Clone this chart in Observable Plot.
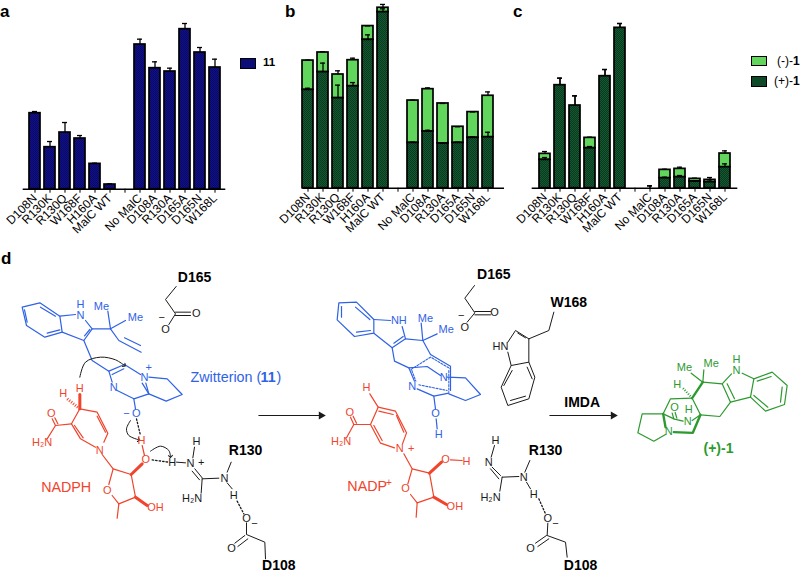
<!DOCTYPE html>
<html><head><meta charset="utf-8">
<script src="https://cdn.jsdelivr.net/npm/d3@7"></script>
<script src="https://cdn.jsdelivr.net/npm/@observablehq/plot@0.6"></script>
<style>
html,body{margin:0;padding:0;background:#fff}
#page{position:relative;width:800px;height:573px;overflow:hidden;font-family:"Liberation Sans",Arial,sans-serif}
#page svg.pl{position:absolute;background:transparent;overflow:visible;max-width:none}
.lbl{position:absolute;line-height:1;white-space:nowrap;color:#000}
.sw{position:absolute;box-sizing:border-box;border:1.7px solid #000}
</style></head><body>
<svg width="0" height="0" style="position:absolute"><defs>
<pattern id="navy" width="2" height="2" patternUnits="userSpaceOnUse"><rect width="2" height="2" fill="#10108c"/><rect width="1" height="1" fill="#0a0a62"/><rect x="1" y="1" width="1" height="1" fill="#0a0a62"/></pattern>
<pattern id="forest" width="2" height="2" patternUnits="userSpaceOnUse"><rect width="2" height="2" fill="#14582f"/><rect width="1" height="1" fill="#0a3a20"/><rect x="1" y="1" width="1" height="1" fill="#0a3a20"/></pattern>
</defs></svg>
<div id="page"></div>
<script>
const categories = ["D108N","R130K","R130Q","W168F","H160A","MalC WT"," ","No MalC","D108A","R130A","D165A","D165N","W168L"];

const aValues = [45.6,25.2,34,30.4,15.2,2.8,null,86.8,72.6,70.6,96,82,73];
const aErrTop = [46.6,28.6,40,32.2,15.6,3.2,null,90,76.4,72.6,99.4,85,78];

const bPlus     = [53.6,63.3,49.1,55.6,80.9,96,null,24.7,30.9,24.4,24.7,27.5,27.8];
const bPlusTop  = [54.5,68.2,56.2,57.6,83.6,97.8,null,25.1,31.6,24.5,25.1,28,30.5];
const bTotal    = [69.6,74,62,69.8,88.4,98.4,null,47.8,54,46.2,33.5,41.5,50.4];
const bTotalTop = [69.8,74.4,64,70.9,88.5,100.2,null,48,54.7,46.2,33.5,41.6,52.5];

const cPlus     = [17,61.8,49.6,24,67.2,96.2,null,0,6,6.6,4,3.6,12.6];
const cPlusTop  = [18.4,66,55.4,25,71.2,98.8,null,1.4,6.6,7.6,4.4,5,14.6];
const cTotal    = [20.6,61.8,49.6,30.2,67.2,96.2,null,0,11,11.6,5.6,5,20.8];
const cTotalTop = [22,66,55.4,30.6,71.2,98.8,null,1.4,11.4,12.6,6,6.4,22.4];

const page = document.getElementById("page");
const NAVY="url(#navy)", FOREST="url(#forest)", LIGHT="#62d65c";

function rows(){return categories.map((c,i)=>({c,i})).filter(d=>aValues[d.i]!=null);}

function panel(o){
  const r=rows();
  const marks=[];
  if(o.total){
    marks.push(Plot.barY(r,{x:"c",y1:d=>o.plus[d.i],y2:d=>o.total[d.i],fill:LIGHT,stroke:"#000",strokeWidth:1.7}));
  }
  marks.push(Plot.barY(r,{x:"c",y1:0,y2:d=>o.plus[d.i],fill:o.fill,stroke:"#000",strokeWidth:1.7}));
  const errs=(top,base)=>[
    Plot.ruleX(r,{x:"c",y1:d=>base[d.i],y2:d=>top[d.i],stroke:"#000",strokeWidth:1.3}),
    Plot.tickY(r,{x:"c",y:d=>top[d.i],stroke:"#000",strokeWidth:1.3,insetLeft:3,insetRight:3})
  ];
  marks.push(...errs(o.plusTop,o.plus));
  if(o.total) marks.push(...errs(o.totalTop,o.total));
  marks.push(Plot.ruleY([0],{stroke:"#000",strokeWidth:1.5}));
  marks.push(Plot.axisX({domain:categories,tickRotate:-45,tickSize:4,tickPadding:3,fontSize:12,label:null,tickFormat:d=>d,stroke:"#000",fill:"#000"}));
  const s=Plot.plot({width:o.w,height:250,marginLeft:o.ml,marginRight:o.mr,marginTop:o.mt,marginBottom:o.mb,
    style:{fontFamily:'"Liberation Sans",Arial,sans-serif',fontSize:"12px",background:"transparent",overflow:"visible"},
    x:{domain:categories,paddingInner:.28,paddingOuter:o.po,align:o.align,axis:null},
    y:{domain:[0,100],axis:null},marks});
  s.setAttribute("class","pl");
  s.style.left=o.left+"px";s.style.top="0";
  page.appendChild(s);
}
panel({left:0,w:270,ml:22.7,mr:44.7,mt:22,mb:61.3,po:.26,align:.5,plus:aValues,plusTop:aErrTop,fill:NAVY});
panel({left:270,w:235,ml:32.3,mr:1,mt:4.3,mb:62.3,po:.16,align:0,plus:bPlus,plusTop:bPlusTop,total:bTotal,totalTop:bTotalTop,fill:FOREST});
panel({left:505,w:295,ml:26.7,mr:62.7,mt:21,mb:62.3,po:.285,align:.5,plus:cPlus,plusTop:cPlusTop,total:cTotal,totalTop:cTotalTop,fill:FOREST});

/* ---- scheme d: bond paths in picture units (3 per page pixel) ---- */
const OX2=810, OX3=1590;
const shift=(a,dx)=>a.map(s=>s.split(" ").map((v,i)=>i%2?+v:+v+dx).join(" "));
const blackBonds=[
 "527 108 495 147 525 190 505 222","525 185 570 185","525 195 570 195",
 "582 590 577 622","583 655 605 682","575 662 597 688","605 685 655 683","605 685 602 728","680 665 692 635","680 697 695 715",
 "528 635 555 637",
 "738 817 738 852 793 875 795 925","733 855 703 878","742 865 712 888"
].concat(shift([
 "612 105 583 143 613 187 590 215","613 183 660 183","613 193 660 193",
 "672 585 662 620","665 650 690 675","660 655 685 685","695 680 745 678","695 680 688 722","763 665 778 630","768 695 780 715",
 "832 818 830 855 885 875 890 920","828 855 795 878","835 865 802 888",
 "850 185 835 240 775 265 775 335","775 265 735 240 712 275","712 305 722 345 775 335 793 380 775 445 712 465 692 410 722 345",
 "765 262 742 248","770 350 785 385","720 450 765 437","700 405 725 360"
],OX2));
const blackDots=["408 505 420 555","455 628 505 635","710 752 730 790"].concat(shift(["805 745 825 790"],OX2));

const blueBonds=[
 "65 170 118 157 178 197 185 245 133 260 78 225 65 170","72 178 80 215","120 170 165 197","140 248 178 238",
 "178 197 225 192","255 210 275 235 250 270 185 245","252 256 268 237",
 "275 235 330 235","330 235 322 182","330 235 375 210","330 235 355 270 422 305","372 262 420 285",
 "250 270 275 330 325 362 372 342 420 372","335 372 370 355","325 362 335 395","350 420 400 445 445 430 436 398","425 398 445 430",
 "445 380 500 385 545 432 497 452 445 430","400 445 405 475"
].concat(shift([
 "205 157 258 155 310 207 310 248 252 258 200 208 205 157","213 168 213 200","255 170 298 207","258 245 300 240",
 "310 207 360 210","395 228 405 265 365 292 310 248","370 278 398 258",
 "405 265 457 270","457 270 452 218","457 270 500 250","457 270 480 312","365 292 372 332 415 352 470 348 510 375",
 "480 312 540 347 540 420","415 352 432 392","440 415 490 437 535 428","535 430 585 450 630 432 585 382 530 380",
 "490 437 495 475","497 505 500 535"
],OX2));
const blueDash=shift(["480 320 420 358","484 322 540 355","445 403 530 420","535 360 535 425","424 360 436 392"],OX2);

const redBonds=[
 "238 475 290 485 322 548 310 575","285 590 240 565 213 520 238 475","290 497 315 545","222 525 248 562",
 "213 520 165 525 140 565","165 525 155 505","172 520 163 502","305 612 338 655 392 672 405 740 355 760 335 735","325 702 338 655","355 760 350 803",
 "425 585 432 615"
].concat(shift([
 "298 430 323 470 375 482 408 547 396 580","372 592 330 578 300 522 323 470","378 495 400 545","310 525 335 570","325 482 368 492",
 "300 522 250 522 228 562","250 522 240 500","258 518 248 497","400 610 425 655 477 668 490 740 440 757 420 732","412 700 425 655","440 757 437 800",
 "540 628 575 630"
],OX2));
const redWedges=["392 672 425 640","405 740 440 765","238 475 238 432"].concat(shift(["477 668 513 635","490 740 528 762"],OX2));
const redHash=["238 475 200 445"];

const greenBonds=shift([
 "670 385 725 365 770 405 762 462 705 482 660 440 670 385","680 392 722 378","755 410 750 455","712 470 670 435",
 "635 368 670 385","660 440 600 455 575 400 603 370","590 400 612 445","575 400 517 395","520 358 517 395","517 395 482 368",
 "485 443 420 445 398 490","600 455 568 498 510 493 485 443","398 490 335 490 322 547 370 572 405 552",
 "425 488 430 505","434 486 439 503","398 490 432 506 458 512","485 510 510 493"
],OX3);
const greenBold=shift(["517 395 485 443","510 493 487 547 430 545","398 490 405 530"],OX3);
const greenHash=shift(["485 443 455 410"],OX3);

const curveArrows=[
 "238 380 255 335 300 320 345 328 372 345","390 510 378 535 385 555 415 568","450 602 480 587 505 600 510 618"
];
const straightArrows=["775 495 962 495","1648 495 1838 495"];

const labelsBlack=[
 ["O",587,190],["O",495,236],["−",484,200],["H",588,572],["N",570,640],["+",602,637],["H",515,635],["N",672,683],["H₂N",575,745],["H",700,735],["O",738,803],["−",762,820],["O",693,895]
].concat([
 ["O",672,187],["O",583,232],["−",572,196],["H",675,570],["N",655,637],["N",760,680],["H₂N",660,742],["H",790,733],["HN",690,288],["O",832,803],["−",855,820],["O",780,895]
].map(d=>[d[0],d[1]+OX2,d[2]]));
const labelsBlackBold=[
 ["D165",582,82],["R130",735,600],["D108",835,944],["D165",1480,72],["R130",1635,600],["D108",1740,944],["W168",1705,155],["IMDA",1745,455]
];
const labelsBlue=[
 ["H",240,162],["N",240,195],["Me",303,167],["Me",405,200],["N",432,382],["+",445,352],["N",340,410],["O",407,490],["−",378,490]
].concat([
 ["NH",385,210],["Me",465,205],["Me",527,238],["N",520,380],["N",425,407],["O",495,490],["H",505,552]
].map(d=>[d[0],d[1]+OX2,d[2]]));
const labelsRed=[
 ["H",188,430],["H",238,415],["O",152,490],["H₂N",125,575],["N",298,600],["O",320,720],["O",436,628],["OH",465,772],["H",423,570]
].concat([
 ["H",288,410],["O",238,487],["H₂N",212,573],["N",388,595],["+",422,595],["O",405,715],["O",525,628],["H",588,632],["OH",553,768]
].map(d=>[d[0],d[1]+OX2,d[2]]));
const labelsGreen=[
 ["H",618,327],["N",618,360],["Me",542,338],["Me",462,352],["H",440,402],["O",432,472],["H",475,478],["N",472,512],["N",415,543]
].map(d=>[d[0],d[1]+OX3,d[2]]);

function pts(list){return list.flatMap((s,k)=>{const v=s.split(" ").map(Number);const out=[];for(let i=0;i<v.length;i+=2)out.push({x:v[i],y:v[i+1],k});return out;});}
const lineMark=(list,stroke,strokeWidth,extra={})=>Plot.line(pts(list),{x:"x",y:"y",z:"k",stroke,strokeWidth,strokeLinecap:"round",strokeLinejoin:"round",...extra});
const textMark=(list,fill,fontSize,fontWeight="normal")=>Plot.text(list,{x:d=>d[1],y:d=>d[2],text:d=>d[0],fill,fontSize,fontWeight,textAnchor:"middle",lineAnchor:"middle"});

const BLUE="#2f62e6",RED="#f0442c",GREEN="#2c9a2e",INK="#1a1a1a";
const scheme=Plot.plot({width:800,height:323,margin:0,
  style:{fontFamily:'"Liberation Sans",Arial,sans-serif',background:"transparent"},
  x:{domain:[0,2400],range:[0,800],axis:null},
  y:{domain:[0,969],range:[0,323],axis:null},
  marks:[
   lineMark(blackBonds,INK,1),lineMark(blackDots,INK,1.3,{strokeDasharray:"1.5,2"}),
   lineMark(blueBonds,BLUE,1.2),lineMark(blueDash,BLUE,1.1,{strokeDasharray:"2,1.5"}),
   lineMark(redBonds,RED,1.2),lineMark(redWedges,RED,3),lineMark(redHash,RED,3,{strokeDasharray:"1,1.5",strokeLinecap:"butt"}),
   lineMark(greenBonds,GREEN,1.2),lineMark(greenBold,GREEN,2.4),lineMark(greenHash,GREEN,2.2,{strokeDasharray:"1,1.5",strokeLinecap:"butt"}),
   lineMark(curveArrows,INK,1,{curve:"catmull-rom",markerEnd:"arrow"}),
   lineMark(straightArrows,INK,1),
   Plot.dot(straightArrows.map(s=>s.split(" ").map(Number)),{x:d=>d[2],y:d=>d[3],symbol:"triangle",r:3,rotate:90,fill:INK}),
   textMark(labelsBlack,INK,11),textMark(labelsBlackBold,"#000",14,"bold"),
   textMark(labelsBlue,BLUE,11),textMark(labelsRed,RED,11),textMark(labelsGreen,GREEN,11),
   Plot.text([["Zwitterion (",570,382]],{x:d=>d[1],y:d=>d[2],text:d=>d[0],fill:BLUE,fontSize:14.3,textAnchor:"start",lineAnchor:"middle"}),
   Plot.text([["11",780,382]],{x:d=>d[1],y:d=>d[2],text:d=>d[0],fill:BLUE,fontSize:14.3,fontWeight:"bold",textAnchor:"start",lineAnchor:"middle"}),
   Plot.text([[")",828,382]],{x:d=>d[1],y:d=>d[2],text:d=>d[0],fill:BLUE,fontSize:14.3,textAnchor:"start",lineAnchor:"middle"}),
   textMark([["NADPH",197,710],["NADP",1100,708]],RED,14.3),
   textMark([["+",1165,698]],RED,10),
   textMark([["(+)-1",2154,593]],GREEN,14,"bold")
  ]});
scheme.setAttribute("class","pl");scheme.style.left="0";scheme.style.top="250px";
page.appendChild(scheme);

/* ---- panel letters and legends ---- */
const addLbl=(html,x,y,size,bold)=>{const e=document.createElement("div");e.className="lbl";e.innerHTML=html;e.style.left=x+"px";e.style.top=y+"px";e.style.fontSize=size+"px";if(bold)e.style.fontWeight="bold";page.appendChild(e);};
const addSw=(x,y,fill)=>{const e=document.createElement("div");e.className="sw";e.style.cssText+=`left:${x}px;top:${y}px;width:16px;height:10.5px;`;e.style.background=fill;page.appendChild(e);};
addLbl("a",0,3,17,true);addLbl("b",285,3,17,true);addLbl("c",513,3,17,true);addLbl("d",1,250,17,true);
addSw(240,58,"#0d0d78");addLbl("11",263,57,11.5,true);
addSw(750.5,55.5,LIGHT);addSw(750.5,76,"#0f4a28");
addLbl("(-)-<b>1</b>",777,55,12,false);addLbl("(+)-<b>1</b>",774,75,12,false);
</script></body></html>
